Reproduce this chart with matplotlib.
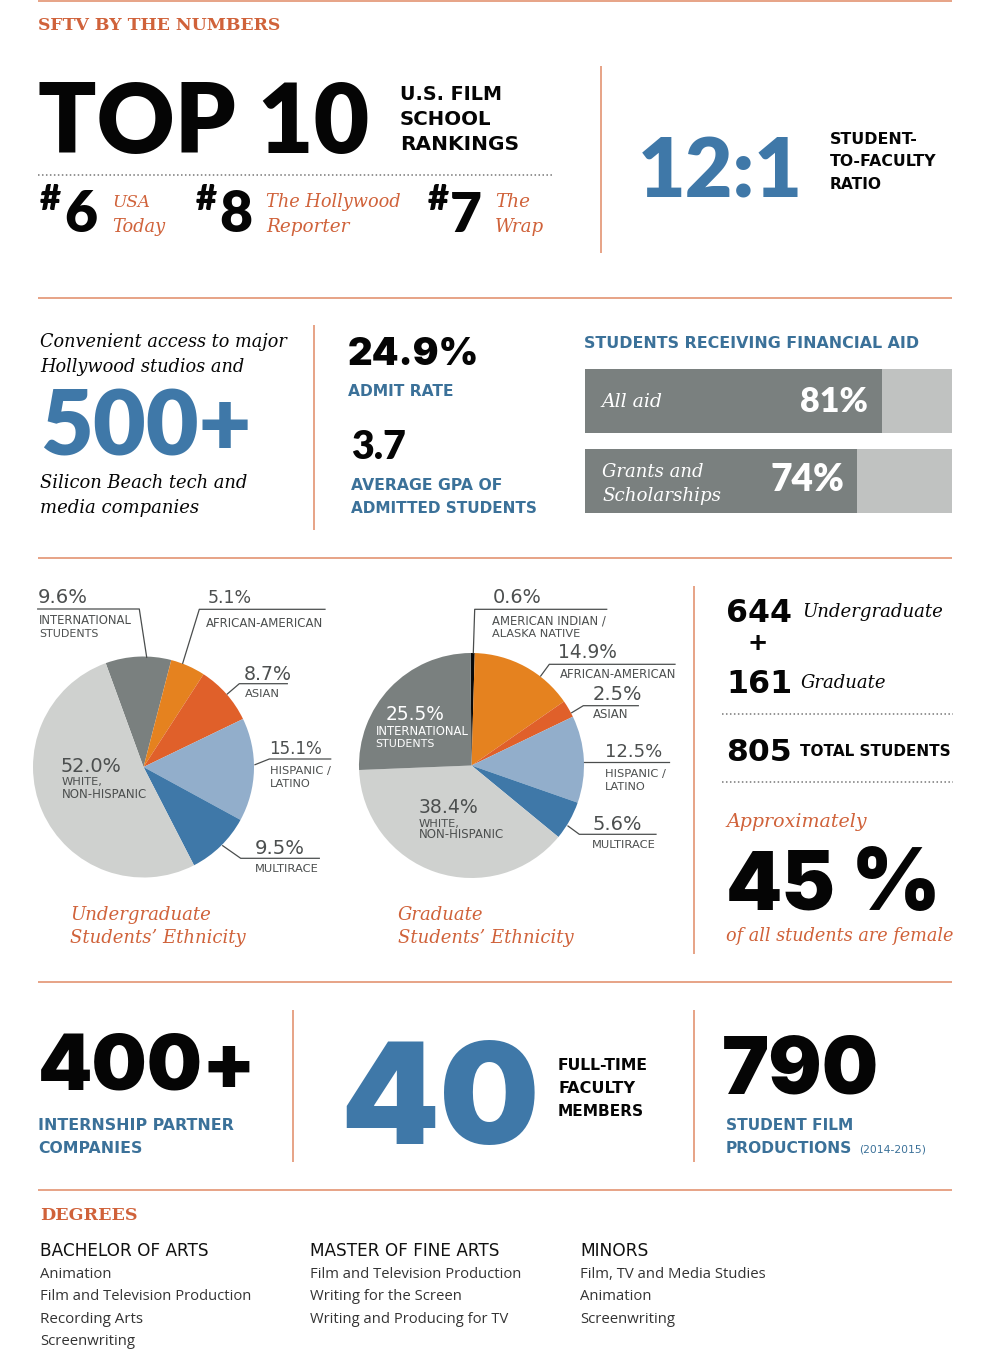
"""SFTV by the numbers infographic, redrawn with matplotlib."""
import matplotlib

matplotlib.use("Agg")
import matplotlib.pyplot as plt
from matplotlib import font_manager as fm

W, H = 1000, 1371

# pies
ug_values = [9.6, 5.1, 8.7, 15.1, 9.5, 52.0]
ug_names = ["INTERNATIONAL\nSTUDENTS", "AFRICAN-AMERICAN", "ASIAN", "HISPANIC /\nLATINO", "MULTIRACE", "WHITE,\nNON-HISPANIC"]
grad_values = [0.6, 14.9, 2.5, 12.5, 5.6, 38.4, 25.5]
grad_names = ["AMERICAN INDIAN /\nALASKA NATIVE", "AFRICAN-AMERICAN", "ASIAN", "HISPANIC /\nLATINO", "MULTIRACE", "WHITE,\nNON-HISPANIC", "INTERNATIONAL\nSTUDENTS"]

# aid bars
aid_values = [81, 74]

ORANGE_TEXT = "#d0623a"
RULE = "#e08a66"
BLUE = "#3f78a8"
BLUE_TEXT = "#3b7199"
GREY_TEXT = "#4c4f4f"
BLACK = "#050505"
DARK_GREY = "#7a807f"
LIGHT_BAR = "#c0c2c1"
ug_colors = [DARK_GREY, "#e5821f", "#e0602a", "#92aecb", BLUE, "#cfd1cf"]
grad_colors = ["#0a0a0a", "#e5821f", "#e0602a", "#92aecb", BLUE, "#cfd1cf", DARK_GREY]

HEAVY = "Lato"
WIDE = "Inter"
CAPTION = "DejaVu Sans"
SLAB = "DejaVu Serif"
BODY = "Open Sans"

# two Lato-Black files are installed and findfont picks either one, so pin it
lato_black = sorted(f.fname for f in fm.fontManager.ttflist if f.fname.endswith("Lato-Black.ttf"))[-1]

fig = plt.figure(figsize=(W / 100, H / 100), dpi=100, facecolor="white")
renderer = fig.canvas.get_renderer()


def box(left, top, right, bottom):
    return fig.add_axes([left / W, 1 - bottom / H, (right - left) / W, (bottom - top) / H])


ax = fig.add_axes([0, 0, 1, 1], zorder=5)
ax.set_xlim(0, W)
ax.set_ylim(H, 0)
ax.axis("off")
ax.patch.set_alpha(0)


def put(x, y, s, w, color=BLACK, family=HEAVY, weight="normal", style="normal", ha="left"):
    """Place text on its baseline and size it to span w pixels."""
    t = ax.text(x, y, s, color=color, family=family, weight=weight, style=style,
                ha=ha, va="baseline", fontsize=20)
    if family == HEAVY and weight == "black":
        t.set_fontproperties(fm.FontProperties(fname=lato_black, size=20))
    t.set_fontsize(20 * w / t.get_window_extent(renderer).width)
    return t


def big(x, y, s, w, color=BLACK, family=HEAVY):
    return put(x, y, s, w, color=color, family=family, weight="black")


def serif(x, y, s, w, color=ORANGE_TEXT):
    return put(x, y, s, w, color=color, family=SLAB, style="italic")


def caps(x, y, s, w, color=BLUE_TEXT):
    return put(x, y, s, w, color=color, family=CAPTION, weight="bold")


def small(x, y, s, w, color=GREY_TEXT):
    return put(x, y, s, w, color=color, family=CAPTION)


def rule(x0, y0, x1, y1):
    ax.plot([x0, x1], [y0, y1], color=RULE, lw=1.1, solid_capstyle="butt")


def dots(x0, x1, y):
    ax.plot([x0, x1], [y, y], color="#777777", lw=1.1, linestyle=(0, (1, 1.6)))


def leader(points):
    ax.plot([p[0] for p in points], [p[1] for p in points], color="#4a4d4d", lw=0.9)


def draw_pie(cx, cy, r, values, colors, start):
    pie_ax = box(cx - r, cy - r, cx + r, cy + r)
    pie_ax.pie(values, colors=colors, startangle=start, counterclock=False, radius=1,
               wedgeprops={"linewidth": 0})
    pie_ax.set_xlim(-1, 1)
    pie_ax.set_ylim(-1, 1)


def pie_labels(values, names, spots, white_slice=None):
    # spots: x, pct baseline, pct width, name x, name baselines, name widths
    for i, spot in enumerate(spots):
        x, y, w, nx, ny, nw = spot
        col = "white" if i == white_slice else GREY_TEXT
        small(x, y, f"{values[i]:.1f}%", w, color=col)
        for line, ly, lw in zip(names[i].split("\n"), ny, nw):
            small(nx, ly, line, lw, color=col)


# horizontal and vertical rules
for y in [0.7, 298, 558, 982, 1190]:
    rule(38, y, 952, y)
rule(601, 66, 601, 253)
rule(314, 325, 314, 530)
rule(694, 586, 694, 954)
rule(293, 1010, 293, 1162)
rule(694, 1010, 694, 1162)
dots(38, 552, 175)
dots(722, 953, 714)
dots(722, 953, 782)

# top block
put(38, 30, "SFTV BY THE NUMBERS", 241, color=ORANGE_TEXT, family=SLAB, weight="bold")
big(38, 153, "TOP 10", 330)
for y, s, w in [(100, "U.S. FILM", 102), (125, "SCHOOL", 91), (150, "RANKINGS", 119)]:
    caps(400, y, s, w, color=BLACK)
for hx, nx, num, nw in [(40, 64, "6", 33), (196, 219, "8", 33), (428, 450, "7", 32)]:
    big(hx, 210, "#", 21)
    big(nx, 232, num, nw)
for x, s1, w1, s2, w2 in [(112, "USA", 38, "Today", 53), (266, "The Hollywood", 135, "Reporter", 83), (495, "The", 35, "Wrap", 49)]:
    serif(x, 207, s1, w1)
    serif(x, 232, s2, w2)
big(638, 197, "12:1", 165, color=BLUE)
for y, s, w in [(144, "STUDENT-", 87), (166, "TO-FACULTY", 106), (189, "RATIO", 52)]:
    caps(830, y, s, w, color=BLACK)

# access / admissions block
serif(40, 347, "Convenient access to major", 247, color=BLACK)
serif(40, 372, "Hollywood studios and", 205, color=BLACK)
big(40, 456, "500+", 210, color=BLUE)
serif(40, 488, "Silicon Beach tech and", 207, color=BLACK)
serif(40, 513, "media companies", 159, color=BLACK)
big(348, 365, "24.9%", 132, family=WIDE)
caps(348, 396, "ADMIT RATE", 106)
big(351, 459, "3.7", 55)
caps(351, 490, "AVERAGE GPA OF", 151)
caps(351, 513, "ADMITTED STUDENTS", 186)
caps(584, 348, "STUDENTS RECEIVING FINANCIAL AID", 334)

# aid bars, one axes per bar so the value scale runs 0-100 across the track
for (top, bottom), value in zip([(369, 433), (449, 513)], aid_values):
    bar_ax = box(585, top, 952, bottom)
    bar_ax.barh([0], [100], height=1, color=LIGHT_BAR, linewidth=0)
    bar_ax.barh([0], [value], height=1, color=DARK_GREY, linewidth=0)
    bar_ax.set_xlim(0, 100)
    bar_ax.set_ylim(-0.5, 0.5)
    bar_ax.axis("off")
serif(601, 407, "All aid", 61, color="white")
big(868, 412, f"{aid_values[0]}%", 68, color="white").set_ha("right")
serif(602, 477, "Grants and", 101, color="white")
serif(602, 501, "Scholarships", 119, color="white")
big(844, 491, f"{aid_values[1]}%", 74, color="white").set_ha("right")

# pies
draw_pie(143.5, 767, 110.5, ug_values, ug_colors, 110)
draw_pie(471.5, 765.5, 112.5, grad_values, grad_colors, 90.5)

for pts in [
    [(37.7, 609), (139.3, 609), (146.7, 657.3)],
    [(325, 609.3), (199.3, 609.3), (182.7, 663.3)],
    [(287.3, 683.7), (239.3, 683.7), (227.3, 694)],
    [(330.7, 759), (269.3, 759), (255, 764.7)],
    [(319.3, 858.3), (240.7, 858.3), (222.7, 845.7)],
    [(606.7, 609.3), (474.7, 609.3), (473.3, 653)],
    [(675, 664.3), (549.3, 664.3), (540.7, 676)],
    [(638.3, 705.7), (583.3, 705.7), (571.7, 712.7)],
    [(669.3, 762), (584, 762)],
    [(656, 834.3), (579.3, 834.3), (568, 826)],
]:
    leader(pts)

pie_labels(ug_values, ug_names, [
    (38, 602.7, 50, 39, [624, 636.7], [93, 59]),
    (208, 602.7, 44, 205.5, [627], [118]),
    (244, 680, 48, 245, [697], [35]),
    (269, 754, 53, 269.5, [774, 786.7], [61, 41]),
    (255, 854, 50, 255, [871.7], [64]),
    (61, 771.7, 61, 61.5, [785, 797.7], [41, 86]),
])
pie_labels(grad_values, grad_names, [
    (493, 602.7, 49, 491.5, [624, 636.7], [114, 89]),
    (557.7, 657.7, 59, 560, [678], [117]),
    (592.7, 700, 49, 592.7, [717.7], [36]),
    (604.7, 757, 57, 604.7, [777.3, 790], [61, 41]),
    (592.7, 830, 49, 592, [847.7], [64]),
    (419, 812.7, 60, 419, [826.7, 838.3], [41, 86]),
    (386, 720, 59, 375.7, [734.7, 747.3], [93, 59]),
], white_slice=6)
serif(70, 920, "Undergraduate", 141)
serif(70, 943, "Students’ Ethnicity", 175)
serif(398, 920, "Graduate", 85)
serif(398, 943, "Students’ Ethnicity", 175)

# enrollment column
for y, s in [(622, "644"), (693, "161"), (761, "805")]:
    caps(726, y, s, 66, color=BLACK)
serif(802, 617, "Undergraduate", 141, color=BLACK)
put(758, 653, "+", 18, weight="bold", ha="center")
serif(801, 688, "Graduate", 85, color=BLACK)
caps(800, 756, "TOTAL STUDENTS", 150, color=BLACK)
serif(726, 827, "Approximately", 140)
big(726, 910, "45", 110, family=WIDE)
big(851, 910, "%", 90, family=WIDE)
serif(726, 941, "of all students are female", 228)

# bottom block
big(38, 1090, "400+", 220, family=WIDE)
caps(38, 1130, "INTERNSHIP PARTNER", 195)
caps(38, 1153, "COMPANIES", 104)
big(340, 1144, "40", 200, color=BLUE, family=WIDE)
for y, s, w in [(1070, "FULL-TIME", 90), (1093, "FACULTY", 77), (1116, "MEMBERS", 86)]:
    caps(558, y, s, w, color=BLACK)
big(722, 1094, "790", 158, family=WIDE)
caps(726, 1130, "STUDENT FILM", 127)
caps(726, 1153, "PRODUCTIONS", 127)
small(859, 1153, "(2014-2015)", 67, color=BLUE_TEXT)

# degrees
put(40, 1220, "DEGREES", 97, color=ORANGE_TEXT, family=SLAB, weight="bold")
degree_heads = [("BACHELOR OF ARTS", 169), ("MASTER OF FINE ARTS", 190), ("MINORS", 69)]
degree_items = [
    [("Animation", 71), ("Film and Television Production", 211), ("Recording Arts", 103), ("Screenwriting", 95)],
    [("Film and Television Production", 211), ("Writing for the Screen", 151), ("Writing and Producing for TV", 198)],
    [("Film, TV and Media Studies", 186), ("Animation", 71), ("Screenwriting", 95)],
]
for x, (head, hw), items in zip([40, 310, 580], degree_heads, degree_items):
    put(x, 1256, head, hw, color="#111111", family=CAPTION)
    for y, (item, iw) in zip([1278, 1300, 1323, 1345], items):
        put(x, y, item, iw, color="#333333", family=BODY)

fig.savefig("out.png", dpi=100)
